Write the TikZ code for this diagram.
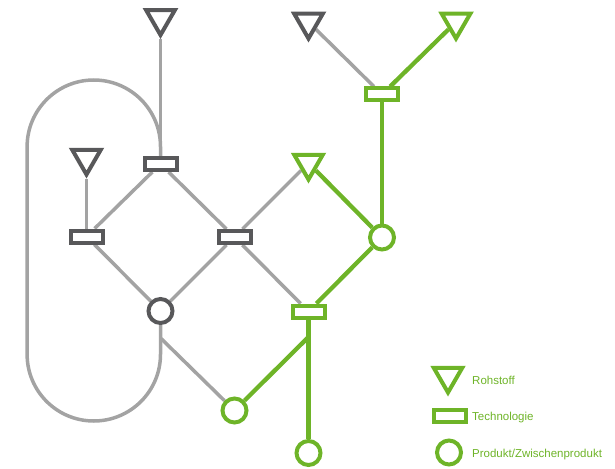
\documentclass[tikz,border=0pt]{standalone}
\usepackage{fontspec}
\setmainfont{Liberation Sans}
\usetikzlibrary{shapes.geometric,backgrounds}
\definecolor{grn}{RGB}{110,180,40}
\definecolor{dgr}{RGB}{88,88,90}
\definecolor{lgr}{RGB}{163,163,163}
\tikzset{
  rohstoff/.style={regular polygon, regular polygon sides=3, shape border rotate=180,
    minimum size=33pt, inner sep=0pt, draw, line width=4pt, fill=white},
  techbox/.style={rectangle, draw, line width=4pt, minimum width=32pt,
    minimum height=12pt, inner sep=0pt, fill=white},
  prod/.style={circle, draw, line width=4pt, minimum size=24pt, inner sep=0pt, fill=white},
  gline/.style={draw=lgr, line width=3.5pt},
  gnline/.style={draw=grn, line width=4.3pt},
  legtext/.style={anchor=west, text=grn, inner sep=0pt, font=\fontsize{11.5}{13}\selectfont}
}
\begin{document}
\begin{tikzpicture}[x=1pt,y=-1pt]
\useasboundingbox (0,0) rectangle (615,468);
% nodes
\node[rohstoff, draw=dgr] (T1) at (160.5,18.5) {};
\node[rohstoff, draw=dgr] (T2) at (308.5,22) {};
\node[rohstoff, draw=grn] (T3) at (456,22) {};
\node[rohstoff, draw=dgr] (T4) at (86.5,158) {};
\node[rohstoff, draw=grn] (T5) at (308.5,163) {};
\node[techbox, draw=grn] (R1) at (382,94.5) {};
\node[techbox, draw=dgr] (R2) at (160.5,164) {};
\node[techbox, draw=dgr] (R3) at (86.5,236.5) {};
\node[techbox, draw=dgr] (R4) at (234.5,237) {};
\node[techbox, draw=grn] (R5) at (308.5,311.5) {};
\node[prod, draw=grn] (C1) at (382,237.5) {};
\node[prod, draw=dgr] (C2) at (160.5,311) {};
\node[prod, draw=grn] (C3) at (234.5,410.5) {};
\node[prod, draw=grn] (C4) at (308.5,453) {};
\coordinate (j1) at (160.5,338);
\coordinate (j2) at (308.5,337);
% legend
\node[rohstoff, draw=grn] (LT) at (448,376) {};
\node[techbox, draw=grn] (LR) at (450,416) {};
\node[prod, draw=grn] (LC) at (449,452.5) {};
\node[legtext] (LT1) at (472,380) {Rohstoff};
\node[legtext] (LR1) at (472,418) {Technologie};
\node[legtext] (LC1) at (472,455) {Produkt/Zwischenprodukt};
% connectors
\begin{scope}[on background layer]
\draw[gline] (C2) -- (160.5,354.3) arc[start angle=0, end angle=180, radius=66.7]
   -- (27.1,146.7) arc[start angle=180, end angle=360, radius=66.7] -- (R2);
\draw[gline] (T1) -- (R2);
\draw[gline] (T4) -- (R3);
\draw[gline] (R2) -- (R3);
\draw[gline] (R2) -- (R4);
\draw[gline] (R3) -- (C2);
\draw[gline] (R4) -- (C2);
\draw[gline] (R4) -- (T5);
\draw[gline] (R4) -- (R5);
\draw[gline] (j1) -- (C3);
\draw[gline] (R1) -- (T2);
\draw[gnline] (R1) -- (T3);
\draw[gnline] (C1) -- (R1);
\draw[gnline] (C1) -- (T5);
\draw[gnline] (R5) -- (C1);
\draw[gnline] (R5) -- (C4);
\draw[gnline] (C3) -- (j2);
\end{scope}
\end{tikzpicture}
\end{document}
